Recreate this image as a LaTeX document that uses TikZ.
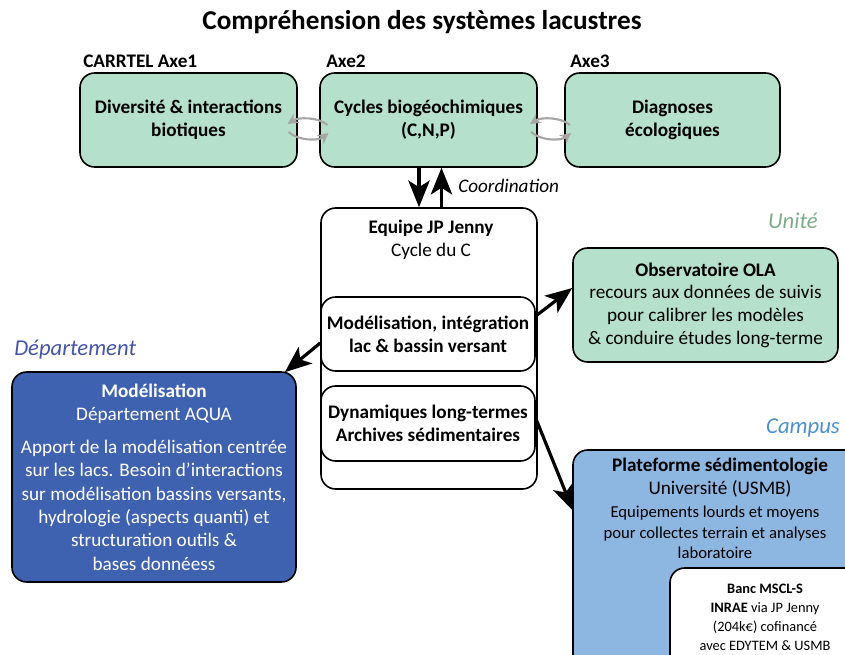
\documentclass[tikz,border=0pt]{standalone}
\usepackage{fontspec}
\setmainfont{Carlito}
\usetikzlibrary{arrows.meta,calc}
\definecolor{mint}{RGB}{181,224,204}
\definecolor{deptblue}{RGB}{63,98,176}
\definecolor{lightblue}{RGB}{141,182,225}
\definecolor{deptlabel}{RGB}{68,84,168}
\definecolor{unitelabel}{RGB}{125,172,135}
\definecolor{campuslabel}{RGB}{76,144,210}
\definecolor{cyclegray}{RGB}{166,166,166}
\begin{document}
\begin{tikzpicture}[x=0.75pt,y=-0.75pt,
  box/.style={draw=black, line width=1.2pt, rounded corners=11pt, inner sep=0pt, align=center},
  txt/.style={font=\fontsize{14.4}{17}\selectfont, align=center, inner sep=0pt},
  small/.style={font=\fontsize{12.5}{15.4}\selectfont, align=center, inner sep=0pt},
  tiny/.style={font=\fontsize{10.8}{14.2}\selectfont, align=center, inner sep=0pt},
  lbl/.style={font=\fontsize{17}{19}\selectfont\itshape, inner sep=0pt},
  axe/.style={font=\fontsize{14.4}{16}\selectfont\bfseries, inner sep=0pt, anchor=west},
  arr/.style={line width=2.4pt, -{Stealth[length=20pt,width=16pt,inset=5pt]}},
  cyc/.style={draw=cyclegray, line width=1.6pt, -{Stealth[length=8pt,width=8pt]}}
]
\useasboundingbox (0,0) rectangle (845,655);

% title
\node[font=\fontsize{20.4}{22}\selectfont\bfseries, inner sep=0pt] (title) at (422,22) {Compréhension des systèmes lacustres};

% axes labels
\node[axe] (ax1) at (83,61) {CARRTEL Axe1};
\node[axe] (ax2) at (326,61) {Axe2};
\node[axe] (ax3) at (570,61) {Axe3};

% top boxes
\node[box, fill=mint, minimum width=162.75pt, minimum height=70.5pt, txt] (b1) at (188.5,120) {\bfseries Diversité \& interactions\\\bfseries biotiques};
\node[box, fill=mint, minimum width=162.75pt, minimum height=70.5pt, txt] (b2) at (428.5,120) {\bfseries Cycles biogéochimiques\\\bfseries (C,N,P)};
\node[box, fill=mint, minimum width=161.25pt, minimum height=70.5pt, txt] (b3) at (672.5,120) {\bfseries Diagnoses\\\bfseries écologiques};

% cycle arrows
\coordinate (c12) at ($(b1.east)!0.5!(b2.west)$);
\coordinate (c23) at ($(b2.east)!0.5!(b3.west)$);
\foreach \c in {c12,c23}{
  \draw[cyc] ($(\c)+(19,5)$) .. controls ($(\c)+(10,-3)$) and ($(\c)+(-10,-3)$) .. ($(\c)+(-21,4)$);
  \draw[cyc] ($(\c)+(-20,12)$) .. controls ($(\c)+(-10,21)$) and ($(\c)+(10,21)$) .. ($(\c)+(20,13)$);
}

% equipe box
\node[box, fill=white, minimum width=162pt, minimum height=210.75pt] (eq) at (429,348.5) {};
\node[txt] (eqtxt) at (431,240) {\textbf{Equipe JP Jenny}\\Cycle du C};
\node[box, fill=white, minimum width=160.5pt, minimum height=55.5pt, txt] (in1) at (428,334) {\bfseries Modélisation, intégration\\\bfseries lac \& bassin versant};
\node[box, fill=white, minimum width=160.5pt, minimum height=56.25pt, txt] (in2) at (428,423.5) {\bfseries Dynamiques long-termes\\\bfseries Archives sédimentaires};

% coordination arrows
\coordinate (dtop) at ($(b2.south)+(-9.5,0)$);
\coordinate (dbot) at (dtop |- eq.north);
\coordinate (ubot) at ($(eq.north)+(12.5,0)$);
\coordinate (utop) at (ubot |- b2.south);
\draw[arr] (dtop) -- (dbot);
\draw[arr] (ubot) -- (utop);
\node[font=\fontsize{14.4}{16}\selectfont\itshape, anchor=west, inner sep=0pt] (coord) at (458,186) {Coordination};

% observatoire
\node[lbl, text=unitelabel, anchor=east] (unite) at (818,221) {Unité};
\node[box, fill=mint, minimum width=198.75pt, minimum height=85.5pt, txt] (obs) at (705.5,305) {\textbf{Observatoire OLA}\\recours aux données de suivis\\pour calibrer les modèles\\\& conduire études long-terme};

% departement
\node[lbl, text=deptlabel, anchor=west] (deptl) at (14,350) {Département};
\node[box, fill=deptblue, minimum width=213pt, minimum height=157.5pt, txt, text=white, font=\fontsize{14.4}{17.5}\selectfont] (dept) at (154,477) {\textbf{Modélisation}\\Département AQUA\\[7pt]Apport de la modélisation centrée\\sur les lacs. Besoin d’interactions\\sur modélisation bassins versants,\\hydrologie (aspects quanti) et\\structuration outils \&\\bases donnéess};

% campus
\node[lbl, text=campuslabel, anchor=east] (campus) at (840,428) {Campus};
\node[box, fill=lightblue, minimum width=226.5pt, minimum height=172.5pt] (pf) at (724,565) {};
\node[txt, anchor=north] (pft1) at (720,458) {\textbf{Plateforme sédimentologie}\\Université (USMB)};
\node[small, anchor=north] (pft2) at (715,506) {Equipements lourds et moyens\\pour collectes terrain et analyses\\laboratoire};
\node[box, fill=white, minimum width=153.75pt, minimum height=91.5pt] (banc) at (772.5,629) {};
\node[tiny] (banctxt) at (765,617) {\textbf{Banc MSCL-S}\\\textbf{INRAE} via JP Jenny\\(204k€) cofinancé\\avec EDYTEM \& USMB};

% diagonal arrows
\draw[arr] ($(in1.east)+(0,-18)$) -- ($(obs.west)+(0,-17)$);
\draw[arr] ($(in1.west)+(0,9)$) -- ($(dept.north east)+(-12,1)$);
\draw[arr] ($(in2.east)+(0,-5)$) -- ($(pf.west)+(1,-54)$);
\end{tikzpicture}
\end{document}
